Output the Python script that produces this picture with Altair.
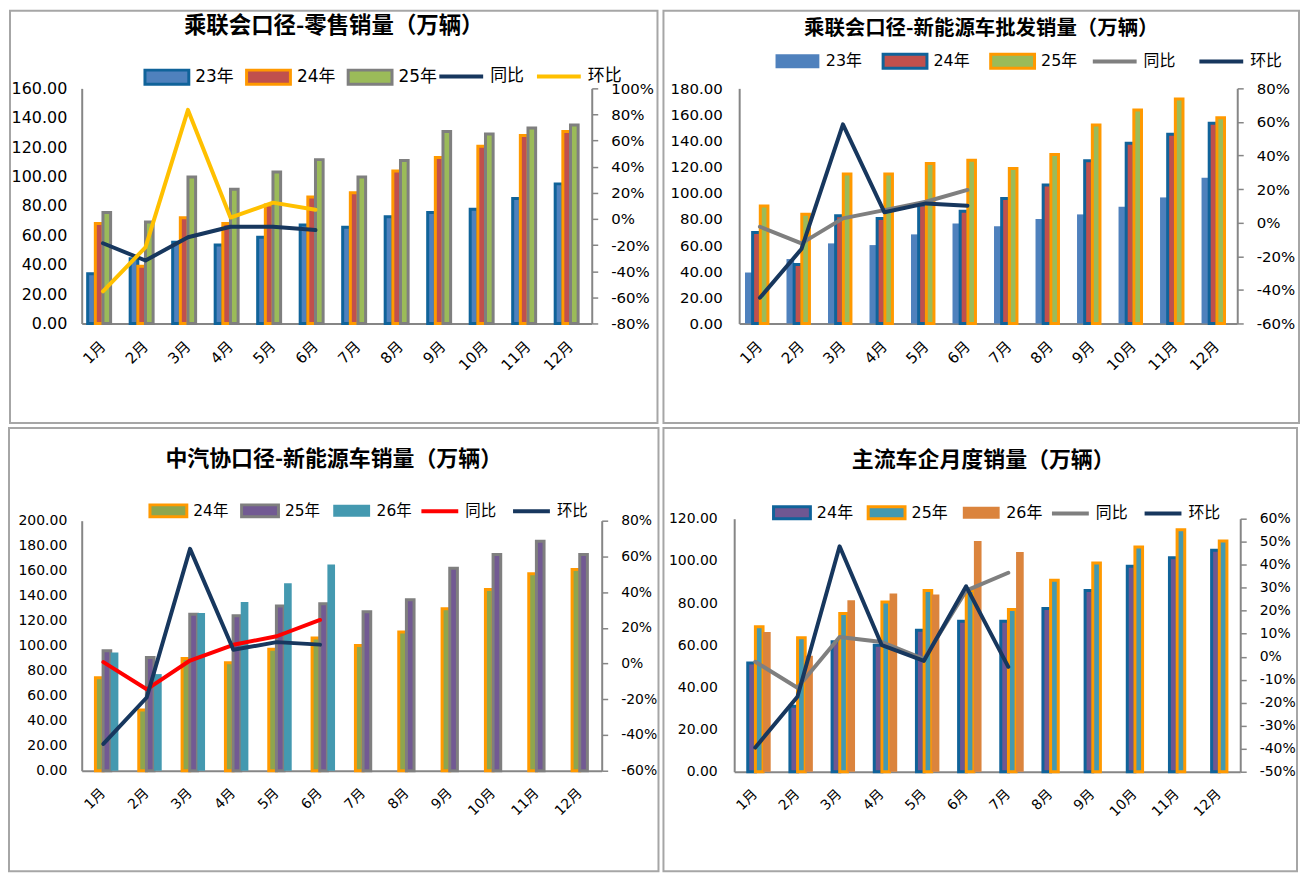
import altair as alt
import pandas as pd

months = ["1月", "2月", "3月", "4月", "5月", "6月", "7月", "8月", "9月", "10月", "11月", "12月"]

# Panel 1: 乘联会口径-零售销量
p1_23 = [33.8, 44.0, 55.2, 53.4, 58.6, 67.0, 65.4, 72.6, 75.5, 77.7, 85.0, 95.0]
p1_24 = [68.0, 39.0, 72.0, 68.0, 80.7, 86.0, 89.0, 103.7, 113.0, 120.6, 128.0, 130.7]
p1_25 = [75.5, 69.0, 99.6, 91.3, 103.0, 111.5, 99.6, 110.9, 130.7, 129.0, 133.0, 135.0]
p1_yoy = [-0.186, -0.318, -0.14, -0.06, -0.06, -0.085]
p1_mom = [-0.554, -0.217, 0.835, 0.011, 0.125, 0.07]

# Panel 2: 乘联会口径-新能源车批发销量
p2_23 = [39.0, 49.3, 61.3, 60.0, 68.2, 76.6, 74.5, 80.0, 83.5, 89.4, 96.5, 111.6]
p2_24 = [69.7, 45.2, 82.5, 80.4, 90.6, 86.0, 95.7, 106.0, 124.6, 137.9, 144.8, 153.2]
p2_25 = [89.9, 83.7, 114.4, 114.4, 122.5, 125.0, 118.7, 129.4, 151.9, 163.4, 171.8, 157.5]
p2_yoy = [-0.024, -0.123, 0.026, 0.075, 0.125, 0.195]
p2_mom = [-0.447, -0.157, 0.586, 0.062, 0.115, 0.101]

# Panel 3: 中汽协口径-新能源车销量
p3_24 = [74.4, 48.6, 89.8, 86.3, 97.2, 106.2, 100.1, 111.0, 129.6, 145.0, 157.5, 161.0]
p3_25 = [95.9, 90.6, 125.1, 124.0, 131.7, 133.6, 127.2, 136.8, 162.0, 172.9, 183.5, 172.9]
p3_26 = [94.6, 77.3, 126.2, 134.9, 150.0, 165.0]
p3_yoy = [0.008, -0.144, 0.017, 0.105, 0.153, 0.244]
p3_mom = [-0.45, -0.19, 0.642, 0.077, 0.12, 0.106]

# Panel 4: 主流车企月度销量
p4_24 = [51.6, 31.1, 61.6, 60.0, 67.1, 71.4, 71.4, 77.4, 86.0, 97.4, 101.5, 105.0]
p4_25 = [68.7, 63.5, 75.0, 80.5, 86.0, 86.0, 76.9, 90.8, 99.0, 106.6, 114.8, 109.4]
p4_26 = [66.3, 55.0, 81.3, 84.5, 84.0, 109.4, 104.2]
p4_yoy = [-0.022, -0.135, 0.086, 0.064, -0.01, 0.287, 0.365]
p4_mom = [-0.395, -0.174, 0.48, 0.05, -0.018, 0.306, -0.044]

NUM_FONT = "DejaVu Sans"
MIX_FONT = "DejaVu Sans, Noto Sans CJK SC"
TITLE_FONT = "Noto Sans CJK SC"
GRAY = "#868686"
NONE = "rgba(0,0,0,0)"
PCT_EXPR = "replace(format(datum.value, '.0%'), '\u2212', '-')"


def long_df(names, series):
    rows = []
    for name, vals in zip(names, series):
        for i, v in enumerate(vals):
            rows.append({"month": months[i], "idx": i, "series": name, "value": v})
    return pd.DataFrame(rows)


def make_panel(cfg):
    W, H = cfg["W"], cfg["H"]
    L, R, T, B = cfg["frame"]
    xdef = dict(
        sort=months,
        scale=alt.Scale(domain=months, paddingInner=0.28, paddingOuter=0.14),
        axis=alt.Axis(
            title=None, labelAngle=315, labelAlign="right", labelBaseline="middle",
            labelFont=MIX_FONT, labelFontSize=cfg["mfs"], labelColor="black",
            labelPadding=20, ticks=False, tickSize=0, domainColor=GRAY, domainWidth=2,
            grid=False,
        ),
    )
    frame = alt.Chart(pd.DataFrame({"f": [1]})).mark_rect(
        fill=NONE, stroke="#A6A6A6", strokeWidth=2
    ).encode(
        x=alt.value(-L), x2=alt.value(W + R), y=alt.value(-T), y2=alt.value(H + B)
    )

    bdf = long_df(cfg["bar_names"], cfg["bar_vals"])
    bl = cfg["bar_leg"]
    bar_legend = alt.Legend(
        orient="none", legendX=bl[0], legendY=bl[1], direction="horizontal", title=None,
        symbolType="M-1,-0.32H1V0.32H-1Z", symbolSize=cfg["sym"] ** 2,
        symbolStrokeWidth=3, labelFont=MIX_FONT, labelFontSize=cfg["lfs"],
        labelColor="black", labelOffset=5, columnPadding=bl[2], padding=0,
    )
    ymax, ystep = cfg["left"]
    bars = alt.Chart(bdf).mark_bar(strokeWidth=3).encode(
        x=alt.X("month:N", **xdef),
        xOffset=alt.XOffset("series:N", scale=alt.Scale(domain=cfg["bar_names"])),
        y=alt.Y(
            "value:Q",
            scale=alt.Scale(domain=[0, ymax], nice=False),
            axis=alt.Axis(
                title=None, values=list(range(0, ymax + 1, ystep)), format=".2f",
                ticks=False, tickSize=0, labelPadding=cfg["ypad"], labelFont=NUM_FONT,
                labelFontSize=cfg["yfs"], labelColor="black", domainColor=GRAY,
                domainWidth=2, grid=False,
            ),
        ),
        fill=alt.Fill("series:N", scale=alt.Scale(domain=cfg["bar_names"], range=cfg["fills"]),
                      legend=bar_legend),
        stroke=alt.Stroke("series:N", scale=alt.Scale(domain=cfg["bar_names"], range=cfg["strokes"]),
                          legend=bar_legend),
    )

    ldf = long_df(cfg["line_names"], cfg["line_vals"])
    ll = cfg["line_leg"]
    rmin, rmax, rstep = cfg["right"]
    rticks = [round(v / 100, 2) for v in range(rmin, rmax + 1, rstep)]
    lines = alt.Chart(ldf).mark_line(strokeWidth=4, strokeJoin="round", strokeCap="round").encode(
        x=alt.X("month:N", **xdef),
        y=alt.Y(
            "value:Q",
            scale=alt.Scale(domain=[rmin / 100, rmax / 100], nice=False, zero=False),
            axis=alt.Axis(
                title=None, orient="right", values=rticks, labelExpr=PCT_EXPR, ticks=True,
                tickSize=6, tickColor=GRAY, tickWidth=1.5, labelPadding=13,
                labelFont=NUM_FONT, labelFontSize=cfg["rfs"], labelColor="black",
                domainColor=GRAY, domainWidth=2, grid=False,
            ),
        ),
        color=alt.Color(
            "series:N", scale=alt.Scale(domain=cfg["line_names"], range=cfg["line_colors"]),
            legend=alt.Legend(
                orient="none", legendX=ll[0], legendY=ll[1], direction="horizontal", title=None,
                symbolType="stroke", symbolSize=cfg["sym"] ** 2, symbolStrokeWidth=4,
                labelFont=MIX_FONT, labelFontSize=cfg["lfs"], labelColor="black",
                labelOffset=5, columnPadding=ll[2], padding=0,
            ),
        ),
        order=alt.Order("idx:Q"),
    )

    return alt.layer(frame, bars, lines).resolve_scale(y="independent").properties(
        width=W, height=H,
        title=alt.TitleParams(
            text=cfg["title"], font=TITLE_FONT, fontSize=cfg["tfs"], fontWeight="bold",
            color="black", anchor="middle", frame="bounds", offset=cfg["toff"], dx=cfg["tdx"],
        ),
    )


c1 = make_panel(dict(
    title="乘联会口径-零售销量（万辆）", W=512, H=236, frame=(72, 66, 78, 100),
    bar_names=["23年", "24年", "25年"], bar_vals=[p1_23, p1_24, p1_25],
    fills=["#4F81BD", "#C0504D", "#9BBB59"], strokes=["#10639A", "#FF9900", "#7F7F7F"],
    line_names=["同比", "环比"], line_vals=[p1_yoy, p1_mom], line_colors=["#17375E", "#FFC000"],
    left=(160, 20), right=(-80, 100, 20), ypad=15,
    yfs=16, rfs=15, mfs=15, lfs=17, tfs=22.5, toff=-28, tdx=0, sym=44,
    bar_leg=(62, -35, 6), line_leg=(357, -36, 5),
))

c2 = make_panel(dict(
    title="乘联会口径-新能源车批发销量（万辆）", W=500, H=236, frame=(76, 62, 78, 100),
    bar_names=["23年", "24年", "25年"], bar_vals=[p2_23, p2_24, p2_25],
    fills=["#4F81BD", "#C0504D", "#9BBB59"], strokes=[NONE, "#10639A", "#FF9900"],
    line_names=["同比", "环比"], line_vals=[p2_yoy, p2_mom], line_colors=["#7F7F7F", "#17375E"],
    left=(180, 20), right=(-60, 80, 20), ypad=17,
    yfs=15, rfs=15, mfs=15, lfs=16, tfs=20.5, toff=-30, tdx=0, sym=44,
    bar_leg=(35, -51, 14), line_leg=(353, -51, 15),
))

c3 = make_panel(dict(
    title="中汽协口径-新能源车销量（万辆）", W=522, H=251, frame=(73, 57, 93, 101),
    bar_names=["24年", "25年", "26年"], bar_vals=[p3_24, p3_25, p3_26],
    fills=["#8DA64F", "#725A93", "#4499B0"], strokes=["#FF9900", "#7F7F7F", NONE],
    line_names=["同比", "环比"], line_vals=[p3_yoy, p3_mom], line_colors=["#FF0000", "#17375E"],
    left=(200, 20), right=(-60, 80, 20), ypad=15,
    yfs=14, rfs=14, mfs=14, lfs=15.5, tfs=22, toff=-44, tdx=0, sym=37,
    bar_leg=(67, -30, 6), line_leg=(339, -30, 8),
))

c4 = make_panel(dict(
    title="主流车企月度销量（万辆）", W=508, H=254, frame=(71, 57, 91, 100),
    bar_names=["24年", "25年", "26年"], bar_vals=[p4_24, p4_25, p4_26],
    fills=["#6F5792", "#4499B0", "#DB843D"], strokes=["#10639A", "#FF9900", NONE],
    line_names=["同比", "环比"], line_vals=[p4_yoy, p4_mom], line_colors=["#7F7F7F", "#17375E"],
    left=(120, 20), right=(-50, 60, 10), ypad=17,
    yfs=14, rfs=14, mfs=14, lfs=16, tfs=22, toff=-45, tdx=3, sym=37,
    bar_leg=(38, -26, 8), line_leg=(317, -26, 8),
))

chart = alt.concat(
    c1, c2, c3, c4, columns=2, spacing=3, align="none", bounds="full",
).resolve_scale(
    x="independent", fill="independent", stroke="independent", color="independent"
).properties(padding=0).configure_view(stroke=None)

chart.save("out.html", embed_options={"renderer": "svg", "actions": False})
